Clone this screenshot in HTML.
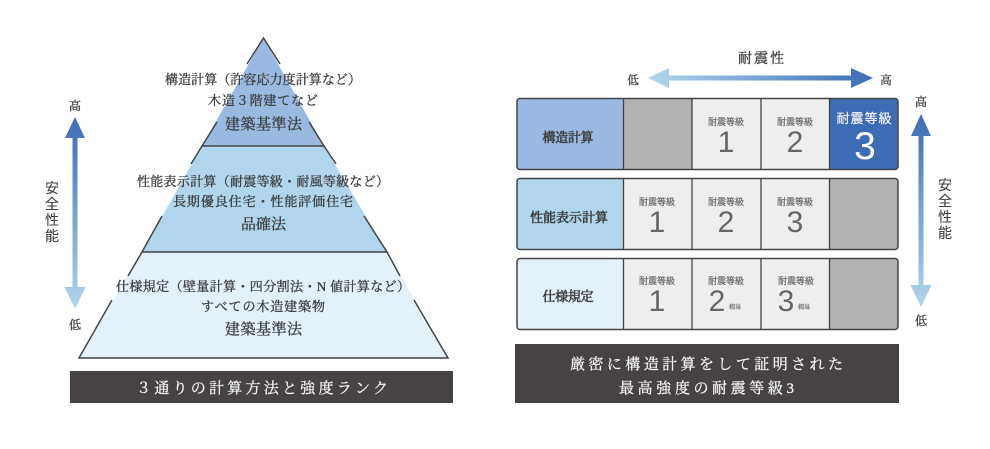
<!DOCTYPE html>
<html lang="ja"><head><meta charset="utf-8"><style>
html,body{margin:0;padding:0;background:#fff}
svg{display:block}
text{font-family:"Liberation Serif","Noto Serif CJK SC",serif;text-anchor:middle;fill:#3f3f3f;stroke:#3f3f3f;stroke-width:.35px}
.s{font-family:"Liberation Sans","Noto Sans CJK JP",sans-serif;stroke-width:.1px}
.lb{font-family:"Liberation Sans","Noto Sans CJK JP",sans-serif;font-size:9px;fill:#666;stroke:#666;stroke-width:.15px}
.d{font-family:"Liberation Sans",sans-serif;font-size:30px;fill:#666;stroke:none}
.t{font-family:"Liberation Sans","Noto Sans CJK JP",sans-serif;font-size:6px;fill:#666;stroke:#666;stroke-width:.15px}
.r{stroke-width:.6px}
.w{fill:#f4f4f4;stroke:#f4f4f4;font-size:15px;stroke-width:.3px}
.e{stroke:#444;stroke-width:1.5;fill:none}
</style></head><body>
<svg width="990" height="449" viewBox="0 0 990 449" xmlns="http://www.w3.org/2000/svg">
<defs>
<linearGradient id="v" x1="0" y1="0" x2="0" y2="1"><stop offset="0" stop-color="#3c6cb4"/><stop offset="1" stop-color="#b1d6ec"/></linearGradient>
<linearGradient id="hg" x1="0" y1="0" x2="1" y2="0"><stop offset="0" stop-color="#b1d6ec"/><stop offset="1" stop-color="#3c6cb4"/></linearGradient>
</defs>
<rect width="990" height="449" fill="#fff"/>

<polygon points="263.5,38 324,146 202,146" fill="#9ab9e0"/>
<polygon points="202,146 324,146 387,252 142,252" fill="#b1d6ec"/>
<polygon points="142,252 387,252 448,358 79,358" fill="#e3f1fb"/>
<path class="e" d="M247,64L263.5,38L280,64"/>
<path class="e" d="M217,122L202,146H324L309,122"/>
<path class="e" d="M191,164L202,146M336,164L324,146"/>
<path class="e" d="M162,216L142,252H387L364,216"/>
<path class="e" d="M128,276L142,252M400,276L387,252"/>
<path class="e" d="M112,300L79,358H448L414,300"/>

<text x="263" y="84" font-size="13" textLength="196">構造計算（許容応力度計算など）</text>
<text x="263" y="105" font-size="13" textLength="110">木造３階建てなど</text>
<text x="263.5" y="129" font-size="15" textLength="77">建築基準法</text>
<text x="263" y="186" font-size="13" textLength="252">性能表示計算（耐震等級・耐風等級など）</text>
<text x="263" y="206" font-size="13" textLength="180">長期優良住宅・性能評価住宅</text>
<text x="263.5" y="229" font-size="15" textLength="45">品確法</text>
<text x="263" y="291" font-size="13" textLength="294">仕様規定（壁量計算・四分割法・N 値計算など）</text>
<text x="263" y="311" font-size="13" textLength="124">すべての木造建築物</text>
<text x="263.5" y="334" font-size="15" textLength="77">建築基準法</text>

<polygon points="75,117 85,138 77.5,138 77.5,287 85.5,287 75,309 64.5,287 72.5,287 72.5,138 65,138" fill="url(#v)"/>
<text x="75" y="110" font-size="12">高</text>
<text x="75" y="329" font-size="12">低</text>
<text class="s" x="52" y="193" font-size="14">安</text>
<text class="s" x="52" y="209" font-size="14">全</text>
<text class="s" x="52" y="225" font-size="14">性</text>
<text class="s" x="52" y="241" font-size="14">能</text>

<rect x="70" y="371" width="383" height="32" fill="#474342"/>
<text class="w" x="262" y="393" textLength="252">３通りの計算方法と強度ランク</text>

<text x="761" y="63" font-size="14" textLength="46">耐震性</text>
<polygon points="648,78 669,68 669,75.5 851,75.5 851,68 873,78 851,88 851,80.5 669,80.5 669,88" fill="url(#hg)"/>
<text x="633" y="84" font-size="11.5">低</text>
<text x="886" y="84" font-size="11.5">高</text>

<g>
<rect x="517" y="98.5" width="381" height="71" rx="3" fill="#eee"/>
<path d="M520,98.5H623V169.5H520Q517,169.5 517,166.5V101.5Q517,98.5 520,98.5Z" fill="#9ab9e0"/>
<rect x="623" y="98.5" width="69" height="71" fill="#b2b2b2"/>
<path d="M829,98.5H895Q898,98.5 898,101.5V166.5Q898,169.5 895,169.5H829Z" fill="#3c6cb4"/>
<rect x="517" y="98.5" width="381" height="71" rx="3" fill="none" stroke="#444" stroke-width="1.5"/>
<path d="M623.5,98V170M692,98V170M761,98V170M829.5,98V170" stroke="#444" stroke-width="1.3"/>

<rect x="517" y="178.5" width="381" height="71" rx="3" fill="#eee"/>
<path d="M520,178.5H623V249.5H520Q517,249.5 517,246.5V181.5Q517,178.5 520,178.5Z" fill="#b1d6ec"/>
<path d="M829,178.5H895Q898,178.5 898,181.5V246.5Q898,249.5 895,249.5H829Z" fill="#b2b2b2"/>
<rect x="517" y="178.5" width="381" height="71" rx="3" fill="none" stroke="#444" stroke-width="1.5"/>
<path d="M623.5,178V250M692,178V250M761,178V250M829.5,178V250" stroke="#444" stroke-width="1.3"/>

<rect x="517" y="258.5" width="381" height="71" rx="3" fill="#eee"/>
<path d="M520,258.5H623V329.5H520Q517,329.5 517,326.5V261.5Q517,258.5 520,258.5Z" fill="#e3f1fb"/>
<path d="M829,258.5H895Q898,258.5 898,261.5V326.5Q898,329.5 895,329.5H829Z" fill="#b2b2b2"/>
<rect x="517" y="258.5" width="381" height="71" rx="3" fill="none" stroke="#444" stroke-width="1.5"/>
<path d="M623.5,258V330M692,258V330M761,258V330M829.5,258V330" stroke="#444" stroke-width="1.3"/>
</g>

<text class="r" x="568" y="142" font-size="13" textLength="51">構造計算</text>
<text class="r" x="569" y="222" font-size="13" textLength="78">性能表示計算</text>
<text class="r" x="568" y="301" font-size="13" textLength="51">仕様規定</text>

<text class="lb" x="726" y="125">耐震等級</text><text class="d" x="726" y="152">1</text>
<text class="lb" x="795" y="125">耐震等級</text><text class="d" x="795" y="152">2</text>
<text class="s" x="864" y="123" font-size="13" style="fill:#f4f4f4;stroke:#f4f4f4;stroke-width:.2px" textLength="55">耐震等級</text>
<text class="s" x="865" y="159" font-size="39" style="fill:#fff;stroke:none">3</text>

<text class="lb" x="657" y="205">耐震等級</text><text class="d" x="657" y="232">1</text>
<text class="lb" x="726" y="205">耐震等級</text><text class="d" x="726" y="232">2</text>
<text class="lb" x="795" y="205">耐震等級</text><text class="d" x="795" y="232">3</text>

<text class="lb" x="657" y="284">耐震等級</text><text class="d" x="657" y="311">1</text>
<text class="lb" x="726" y="284">耐震等級</text><text class="d" x="717" y="311">2</text><text class="t" x="735" y="309">相当</text>
<text class="lb" x="796" y="284">耐震等級</text><text class="d" x="786" y="311">3</text><text class="t" x="804" y="309">相当</text>

<polygon points="921,114 931,136 923.5,136 923.5,285 931.5,285 921,307 910.5,285 918.5,285 918.5,136 911,136" fill="url(#v)"/>
<text x="921" y="106" font-size="12">高</text>
<text x="921" y="325" font-size="12">低</text>
<text class="s" x="945" y="190" font-size="14">安</text>
<text class="s" x="945" y="206" font-size="14">全</text>
<text class="s" x="945" y="222" font-size="14">性</text>
<text class="s" x="945" y="238" font-size="14">能</text>

<rect x="515" y="344" width="384" height="59" fill="#474342"/>
<text class="w" x="706.5" y="369" textLength="273">厳密に構造計算をして証明された</text>
<text class="w" x="706.5" y="393" textLength="175">最高強度の耐震等級3</text>
</svg>
</body></html>
